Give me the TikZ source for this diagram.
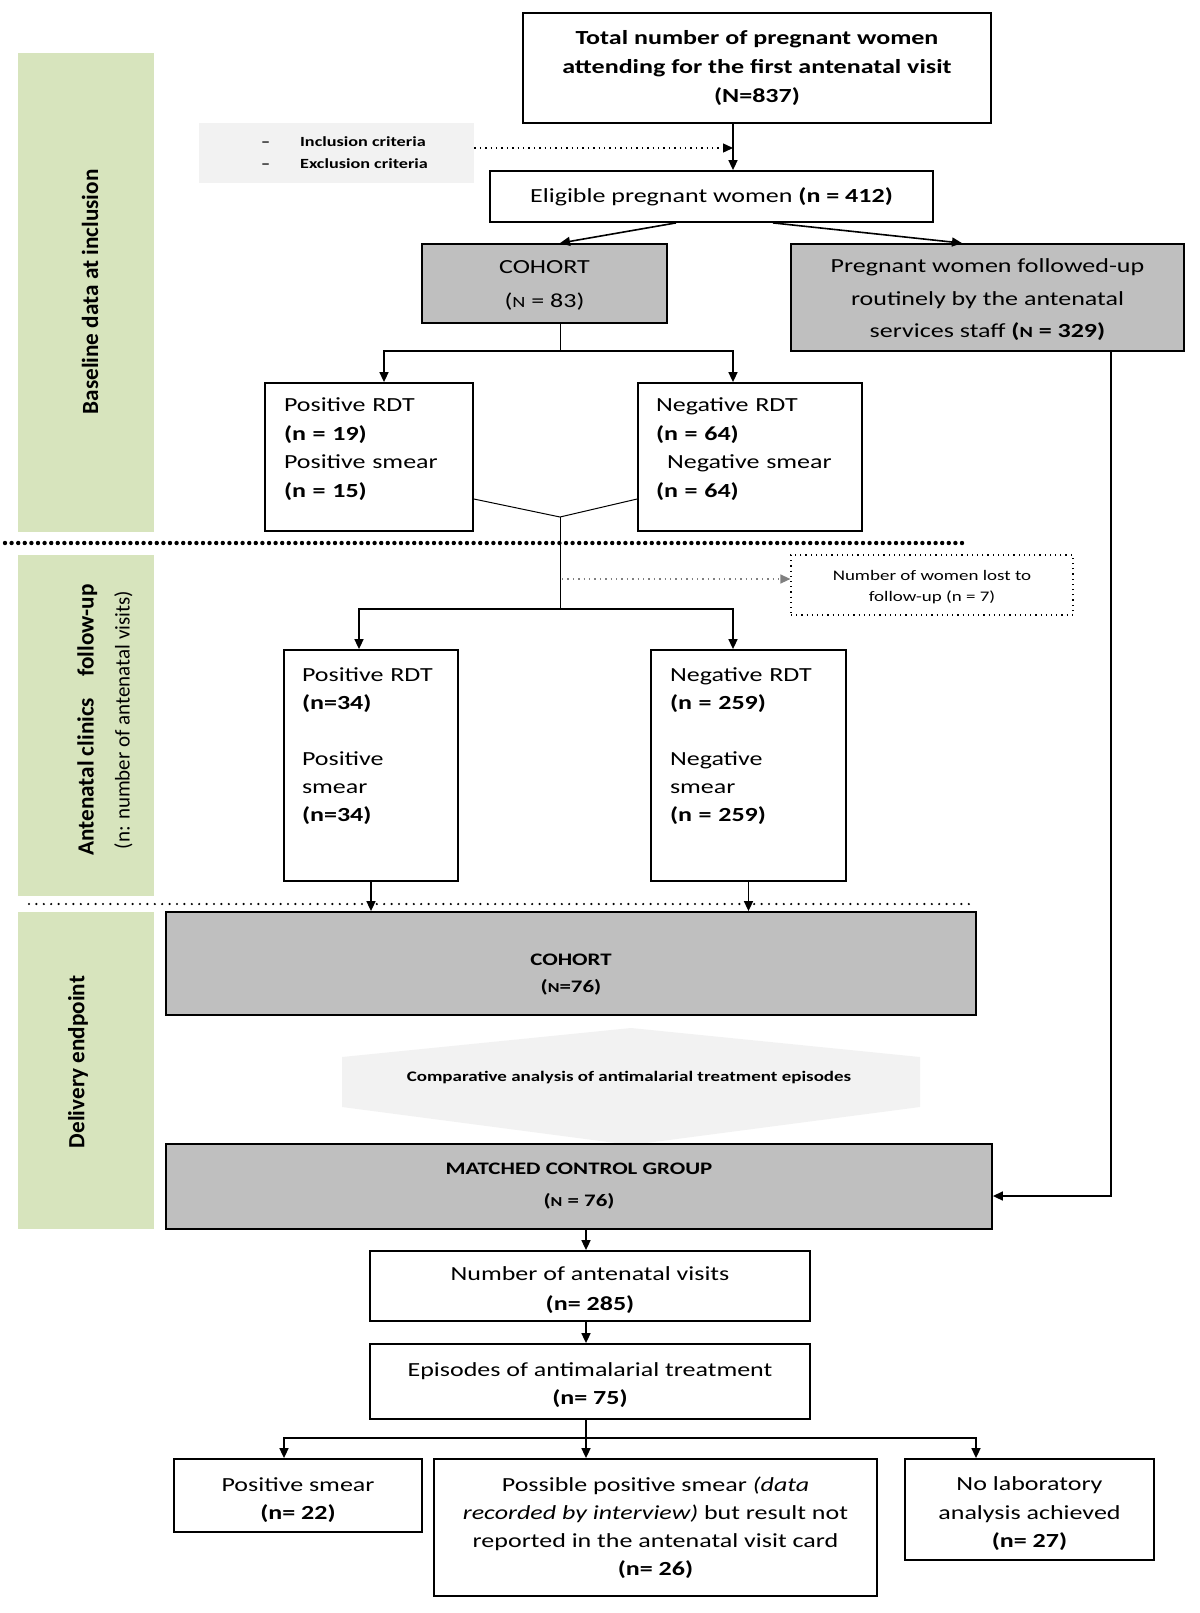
\documentclass[tikz,border=0pt]{standalone}
\usepackage{graphicx}
\usepackage{fontspec}
\setmainfont{Carlito}[FakeStretch=1.3]
\newfontfamily\bandfont{Carlito}
\usetikzlibrary{arrows.meta}

\definecolor{bandgreen}{HTML}{D7E4BD}
\definecolor{boxgrey}{HTML}{BFBFBF}
\definecolor{lightgrey}{HTML}{F2F2F2}

% small capital N used in the group sizes
\newcommand\capN{\scalebox{0.78}{N}}
% extra depth under the last line, pushes the text up
\newcommand\pushup[1]{\rule[-#1]{0pt}{#1}}
% extra height over the first line, pushes the text down
\newcommand\pushdown[1]{\rule{0pt}{#1}}

\begin{document}
\begin{tikzpicture}[x=0.5pt,y=-0.5pt,
  box/.style={draw,line width=0.9pt,inner sep=0pt,align=center,font=\fontsize{10}{14}\selectfont},
  greybox/.style={box,fill=boxgrey},
  rdt/.style={box,align=left,inner xsep=9pt,font=\fontsize{10}{14.3}\selectfont},
  arr/.style={line width=0.8pt,-{Triangle[length=5pt,width=4.5pt]}},
  thin/.style={line width=0.5pt},
  bandtext/.style={rotate=90,font=\bandfont\bfseries\fontsize{11.6}{18}\selectfont}]
  \useasboundingbox (0,0) rectangle (1200,1613);

  % phase bands
  \fill[bandgreen] (18,53) rectangle (154,532);
  \fill[bandgreen] (18,555) rectangle (154,896);
  \fill[bandgreen] (18,912) rectangle (154,1229);
  \node (base) at (90,292) [bandtext] {Baseline data at inclusion};
  \node (anc) at (105,720) [bandtext,align=center] {Antenatal clinics\hspace{8pt} follow-up\\{\mdseries\fontsize{10.5}{18}\selectfont(n: number of antenatal visits)}};
  \node (deliv) at (78,1062) [bandtext] {Delivery endpoint};

  % inclusion
  \node (total) at (757,68) [box,minimum width=234pt,minimum height=55pt,font=\bfseries\fontsize{10}{14.5}\selectfont] {Total number of pregnant women\\attending for the first antenatal visit\\(N=837)};
  \node (incl) at (336.5,153) [fill=lightgrey,minimum width=137.5pt,minimum height=30pt,inner sep=0pt,align=left,font=\bfseries\fontsize{7}{11}\selectfont] {\hspace*{8pt}–\hspace{15pt}Inclusion criteria\\\hspace*{8pt}–\hspace{15pt}Exclusion criteria};
  \node (elig) at (711.5,196.5) [box,minimum width=221.5pt,minimum height=25.5pt] {Eligible pregnant women \textbf{(n = 412)}};
  \node (coh) at (544.5,283.5) [greybox,minimum width=122.5pt,minimum height=39.5pt,font=\fontsize{10}{17}\selectfont] {\pushdown{8.4pt}COHORT\\(\capN{} = 83)};
  \node (fol) at (987.5,297.5) [greybox,minimum width=196.5pt,minimum height=53.5pt,font=\fontsize{10}{16.25}\selectfont] {\pushdown{9.5pt}Pregnant women followed-up\\routinely by the antenatal\\services staff \textbf{(\capN{} = 329)}};
  \node (pos1) at (369,457) [rdt,text width=85pt,inner xsep=9.5pt,minimum height=74pt] {Positive RDT\\\textbf{(n = 19)}\\Positive smear\\\textbf{(n = 15)}\pushup{9.4pt}};
  \node (neg1) at (750,457) [rdt,text width=94pt,minimum height=74pt] {Negative RDT\\\textbf{(n = 64)}\\\hspace*{5.5pt}Negative smear\\\textbf{(n = 64)}\pushup{9.4pt}};

  % follow-up
  \node (lost) at (932,585) [draw,dotted,line width=0.6pt,minimum width=141pt,minimum height=30pt,inner sep=0pt,align=center,font=\fontsize{7.3}{10.5}\selectfont] {\pushdown{7pt}Number of women lost to\\follow-up (n = 7)};
  \node (pos2) at (371,765.5) [rdt,text width=69pt,minimum height=115.5pt,font=\fontsize{10}{14}\selectfont] {Positive RDT\\\textbf{(n=34)}\\[14pt]Positive\\smear\\\textbf{(n=34)}\pushup{20.9pt}};
  \node (neg2) at (748.5,765.5) [rdt,text width=78.5pt,inner xsep=9.5pt,minimum height=115.5pt,font=\fontsize{10}{14}\selectfont] {Negative RDT\\\textbf{(n = 259)}\\[14pt]Negative\\smear\\\textbf{(n = 259)}\pushup{20.9pt}};

  % delivery
  \node (coh2) at (571,963.5) [greybox,minimum width=405pt,minimum height=51.5pt,font=\bfseries\fontsize{8.8}{13.5}\selectfont] {\pushdown{16.7pt}COHORT\\(\capN=76)};
  \fill[lightgrey] (631,1028) -- (920,1057) -- (920,1107) -- (631,1145) -- (342,1107) -- (342,1057) -- cycle;
  \node (anal) at (629,1077) [font=\bfseries\fontsize{7.3}{9}\selectfont] {Comparative analysis of antimalarial treatment episodes};
  \node (match) at (579,1186.5) [greybox,minimum width=413pt,minimum height=42.5pt,font=\bfseries\fontsize{8.8}{16}\selectfont] {MATCHED CONTROL GROUP\\(\capN{} = 76)};
  \node (visit) at (590,1286) [box,minimum width=220pt,minimum height=35pt,font=\fontsize{10}{15}\selectfont] {\pushdown{11pt}Number of antenatal visits\\\textbf{(n= 285)}};
  \node (epis) at (590,1381.5) [box,minimum width=220pt,minimum height=37.5pt] {\pushdown{10pt}Episodes of antimalarial treatment\\\textbf{(n= 75)}};
  \node (smear) at (298,1495.5) [box,minimum width=124pt,minimum height=36.5pt] {\pushdown{11pt}Positive smear\\\textbf{(n= 22)}};
  \node (poss) at (655.5,1527.5) [box,minimum width=221.5pt,minimum height=68.5pt] {Possible positive smear \textit{(data}\\\textit{recorded by interview)} but result not\\reported in the antenatal visit card\\\textbf{(n= 26)}};
  \node (nolab) at (1029.5,1509.5) [box,minimum width=124.5pt,minimum height=50.5pt,font=\fontsize{10}{14.2}\selectfont] {\pushdown{11pt}No laboratory\\analysis achieved\\\textbf{(n= 27)}};

  % separators
  \draw[line width=2.2pt,line cap=round,dash pattern=on 0pt off 3.3pt] (5,543) -- (967,543);
  \draw[line width=1.2pt,line cap=round,dash pattern=on 0pt off 3.7pt] (29,904) -- (972,904);

  % connectors
  \coordinate (join) at (733,148);
  \draw[arr] (total.south -| join) -- (elig.north -| join);
  \draw[dotted,line width=0.7pt,-{Triangle[length=5pt,width=4.5pt]}] (incl.east |- join) -- (join);
  \draw[arr] (elig.south -| 676,0) -- (coh.north -| 560,0);
  \draw[arr] (elig.south -| 773,0) -- (fol.north -| 962,0);
  \coordinate (fork1) at (560,351);
  \draw[thin] (coh.south -| fork1) -- (fork1);
  \draw[arr] (fork1) -| (pos1.north -| 384,0);
  \draw[arr] (fork1) -| (neg1.north -| 733,0);
  \coordinate (merge) at (560,517);
  \draw[thin] (pos1.east |- 0,499) -- (merge) -- (neg1.west |- 0,499);
  \coordinate (fork2) at (560,609);
  \draw[thin] (merge) -- (fork2);
  \draw[arr] (fork2) -| (pos2.north -| 359,0);
  \draw[arr] (fork2) -| (neg2.north -| 733,0);
  \coordinate (lostsplit) at (562,579);
  \draw[gray,dotted,line width=0.7pt,-{Triangle[length=5pt,width=4.5pt]}] (lostsplit) -- (lost.west |- lostsplit);
  \draw[arr] (pos2.south) -- (coh2.north -| pos2.south);
  \draw[arr] (neg2.south) -- (coh2.north -| neg2.south);
  \draw[arr] (fol.south -| 1111,0) |- (match.east |- 0,1196);
  \draw[arr] (match.south -| 586,0) -- (visit.north -| 586,0);
  \draw[arr] (visit.south -| 586,0) -- (epis.north -| 586,0);
  \coordinate (fork3) at (586,1438);
  \draw[line width=0.8pt] (epis.south -| fork3) -- (fork3);
  \draw[arr] (fork3) -| (smear.north -| 284,0);
  \draw[arr] (fork3) -- (poss.north -| fork3);
  \draw[arr] (fork3) -| (nolab.north -| 976,0);
\end{tikzpicture}
\end{document}
